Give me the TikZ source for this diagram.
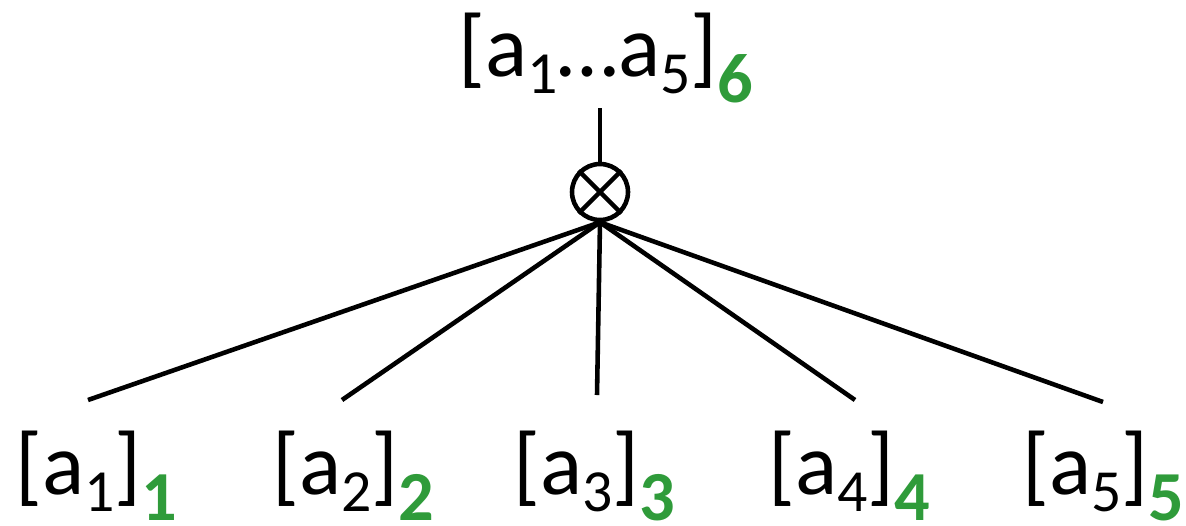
\documentclass[tikz,border=0pt]{standalone}
\usepackage{fontspec}
\setmainfont{Carlito}
\definecolor{grn}{RGB}{47,155,58}
\newcommand\subn[1]{\raisebox{-10pt}{\fontsize{34}{34}\selectfont #1}}
\newcommand\gsub[1]{\raisebox{-15pt}{\fontsize{40}{40}\selectfont\bfseries\color{grn}#1}}
\begin{document}
\begin{tikzpicture}[x=0.02cm,y=-0.02cm,
  lbl/.style={anchor=base west,inner sep=0pt,font=\fontsize{50}{50}\selectfont},
  edge/.style={line width=2.6pt,black},
  otimes/.style={circle,draw,line width=2.6pt,minimum size=1.12cm,inner sep=0pt}]
\useasboundingbox (0,0) rectangle (1186,525);
\node[lbl] (top) at (458,76) {[a\subn{1}…a\subn{5}]\gsub{6}};
\node[otimes] (ox) at (600,192) {};
\draw[edge] (ox.north east) -- (ox.south west);
\draw[edge] (ox.north west) -- (ox.south east);
\coordinate (t0) at (600,108);
\draw[edge] (t0) -- (ox.north);
\node[lbl] (l1) at (15,494) {[a\subn{1}]\gsub{1}};
\node[lbl] (l2) at (272,494) {[a\subn{2}]\gsub{2}};
\node[lbl] (l3) at (513,494) {[a\subn{3}]\gsub{3}};
\node[lbl] (l4) at (768,494) {[a\subn{4}]\gsub{4}};
\node[lbl] (l5) at (1022,494) {[a\subn{5}]\gsub{5}};
\coordinate (e1) at (88,400);
\coordinate (e2) at (342,400);
\coordinate (e3) at (597,395);
\coordinate (e4) at (855,400);
\coordinate (e5) at (1103,402);
\foreach \i in {1,...,5} \draw[edge] (ox.south) -- (e\i);
\end{tikzpicture}
\end{document}
